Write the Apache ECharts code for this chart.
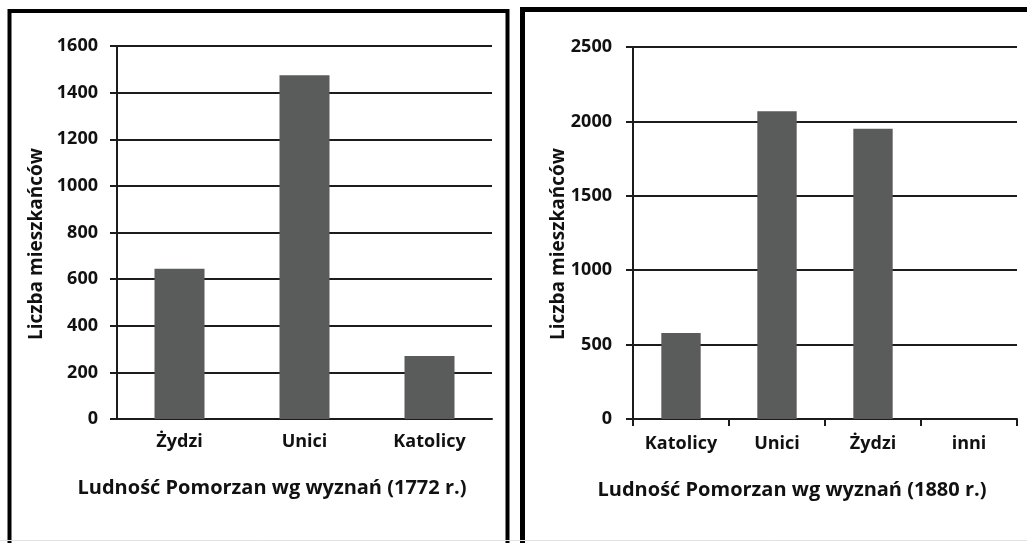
<!DOCTYPE html>
<html>
<head>
<meta charset="utf-8">
<script src="https://cdn.jsdelivr.net/npm/echarts@6/dist/echarts.min.js"></script>
<style>
  html, body { margin: 0; padding: 0; background: #fff; }
  #main { width: 1027px; height: 543px; }
</style>
</head>
<body>
<div id="main"></div>
<script>
// dane z obu wykresów
let cats1772 = ['Żydzi', 'Unici', 'Katolicy']
let vals1772 = [645, 1475, 270]
let cats1880 = ['Katolicy', 'Unici', 'Żydzi', 'inni']
let vals1880 = [578, 2068, 1950, 0]
let yMax1772 = 1600, yStep1772 = 200
let yMax1880 = 2500, yStep1880 = 500
let yName = 'Liczba mieszkańców'
let title1772 = 'Ludność Pomorzan wg wyznań (1772 r.)'
let title1880 = 'Ludność Pomorzan wg wyznań (1880 r.)'

let font = "'Open Sans', sans-serif"
let lineColor = '#1c1c1c'

// wspólny styl osi y
function yAxisOf(idx, max, step, margin) {
  return {
    type: 'value',
    gridIndex: idx,
    min: 0,
    max: max,
    interval: step,
    axisLine: { show: true, lineStyle: { color: lineColor, width: 2 } },
    axisTick: { show: true, length: 7, lineStyle: { color: lineColor, width: 2 } },
    splitLine: { lineStyle: { color: lineColor, width: 2 } },
    axisLabel: {
      margin: margin, color: '#111', fontFamily: font, fontWeight: 'bold', fontSize: 18,
      formatter: function (v) { return String(v) }  // bez separatora tysięcy
    }
  }
}

function barOf(idx, data, width) {
  return {
    type: 'bar',
    xAxisIndex: idx,
    yAxisIndex: idx,
    data: data,
    barWidth: width,
    itemStyle: { color: '#5a5b5b' }
  }
}

function textOf(x, y, txt, rot, size) {
  return {
    type: 'text',
    x: x, y: y,
    rotation: rot || 0,
    style: {
      text: txt, fill: '#111', font: 'bold ' + (size || 19) + 'px ' + font,
      align: 'center', verticalAlign: 'middle'
    }
  }
}

let option = {
  animation: false,
  grid: [
    { left: 117, top: 46, width: 375, height: 373 },
    { left: 633, top: 47, width: 384, height: 372 }
  ],
  xAxis: [
    {
      type: 'category', gridIndex: 0, data: cats1772,
      axisLine: { lineStyle: { color: lineColor, width: 2 } },
      axisTick: { show: false },
      axisLabel: { margin: 14, color: '#111', fontFamily: font, fontWeight: 'bold', fontSize: 18 }
    },
    {
      type: 'category', gridIndex: 1, data: cats1880,
      axisLine: { lineStyle: { color: lineColor, width: 2 } },
      axisTick: { show: true, length: 7, lineStyle: { color: lineColor, width: 2 } },
      axisLabel: { margin: 16, color: '#111', fontFamily: font, fontWeight: 'bold', fontSize: 18 }
    }
  ],
  yAxis: [
    yAxisOf(0, yMax1772, yStep1772, 19),
    yAxisOf(1, yMax1880, yStep1880, 21)
  ],
  series: [
    barOf(0, vals1772, '40%'),
    barOf(1, vals1880, '41%')
  ],
  graphic: [
    // ramki obu wykresów
    { type: 'rect', shape: { x: 9.5, y: 11, width: 498, height: 600 },
      style: { fill: 'none', stroke: '#000', lineWidth: 4 } },
    { type: 'rect', shape: { x: 522.5, y: 9.5, width: 600, height: 600 },
      style: { fill: 'none', stroke: '#000', lineWidth: 5 } },
    { type: 'line', shape: { x1: 0, y1: 540.5, x2: 1027, y2: 540.5 },
      style: { stroke: '#e2e2e2', lineWidth: 1 } },
    // tytuły osi
    textOf(37, 244, yName, Math.PI / 2),
    textOf(559, 244, yName, Math.PI / 2),
    textOf(272, 488, title1772, 0, 20),
    textOf(792, 490, title1880, 0, 20)
  ]
}

echarts.init(document.getElementById('main')).setOption(option)
</script>
</body>
</html>
